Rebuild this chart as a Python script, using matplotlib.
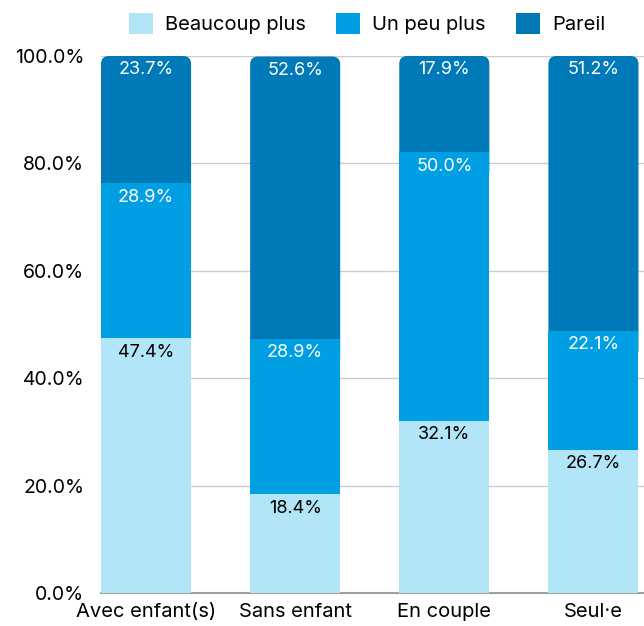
import matplotlib.pyplot as plt
import numpy as np
from matplotlib.patches import FancyBboxPatch, Patch

plt.rcParams['font.family'] = ['Inter', 'DejaVu Sans']

categories = ['Avec enfant(s)', 'Sans enfant', 'En couple', 'Seul·e']
beaucoup = [47.4, 18.4, 32.1, 26.7]
un_peu = [28.9, 28.9, 50.0, 22.1]
pareil = [23.7, 52.6, 17.9, 51.2]
series_names = ['Beaucoup plus', 'Un peu plus', 'Pareil']
colors = ['#b3e5f8', '#009fe3', '#0079b8']
text_colors = ['black', 'white', 'white']

fig = plt.figure(figsize=(6.44, 6.26), dpi=100)
ax = fig.add_axes([101 / 644, 33 / 626, 543 / 644, 537 / 626])

x = np.arange(len(categories))
w = 0.604

# px per data unit, so the rounded corner stays circular
px_x = 149.0
px_y = 5.37

bottoms = np.zeros(len(categories))
for i, (vals, c, tc) in enumerate(zip([beaucoup, un_peu, pareil], colors, text_colors)):
    vals = np.array(vals)
    if i < 2:
        ax.bar(x, vals, w, bottom=bottoms, color=c, zorder=3)
    else:
        # top segment: rounded top corners, bottom tucked under the lower segment
        r = 8 / px_x
        aspect = (8 / px_y) / r
        for xi, b, v in zip(x, bottoms, vals):
            box = FancyBboxPatch((xi - w / 2, b - 5), w, v + 5,
                                 boxstyle=f'round,pad=0,rounding_size={r}',
                                 mutation_aspect=aspect, linewidth=0,
                                 facecolor=c, zorder=2)
            ax.add_patch(box)
    for xi, b, v in zip(x, bottoms, vals):
        ax.annotate(f'{v:.1f}%', (xi, b + v), xytext=(0, -10), textcoords='offset points',
                    ha='center', va='center', color=tc, fontsize=13, zorder=4)
    bottoms = bottoms + vals

ax.set_xlim(-0.302, 3.339)
ax.set_ylim(0, 100)
ax.set_yticks(np.arange(0, 101, 20))
ax.set_yticklabels([f'{t:.1f}%' for t in np.arange(0, 101, 20)], fontsize=14)
ax.set_xticks(x)
ax.set_xticklabels(categories, fontsize=14.5)
ax.tick_params(length=0)
ax.tick_params(axis='y', pad=12)
ax.tick_params(axis='x', pad=7)
ax.yaxis.grid(True, color='#cccccc', linewidth=1, zorder=0)
ax.set_axisbelow(True)
for s in ['top', 'right', 'left']:
    ax.spines[s].set_visible(False)
ax.spines['bottom'].set_color('#a0a0a0')
ax.spines['bottom'].set_linewidth(1.5)
ax.spines['bottom'].set_zorder(1)

handles = [Patch(facecolor=c, edgecolor='none') for c in colors]
fig.legend(handles, series_names, loc='center', bbox_to_anchor=(0.57, 0.962), ncol=3,
           frameon=False, fontsize=14.5, handlelength=1.2, handleheight=1.2,
           handletextpad=0.6, columnspacing=1.5)

fig.savefig('out.png', dpi=100)
